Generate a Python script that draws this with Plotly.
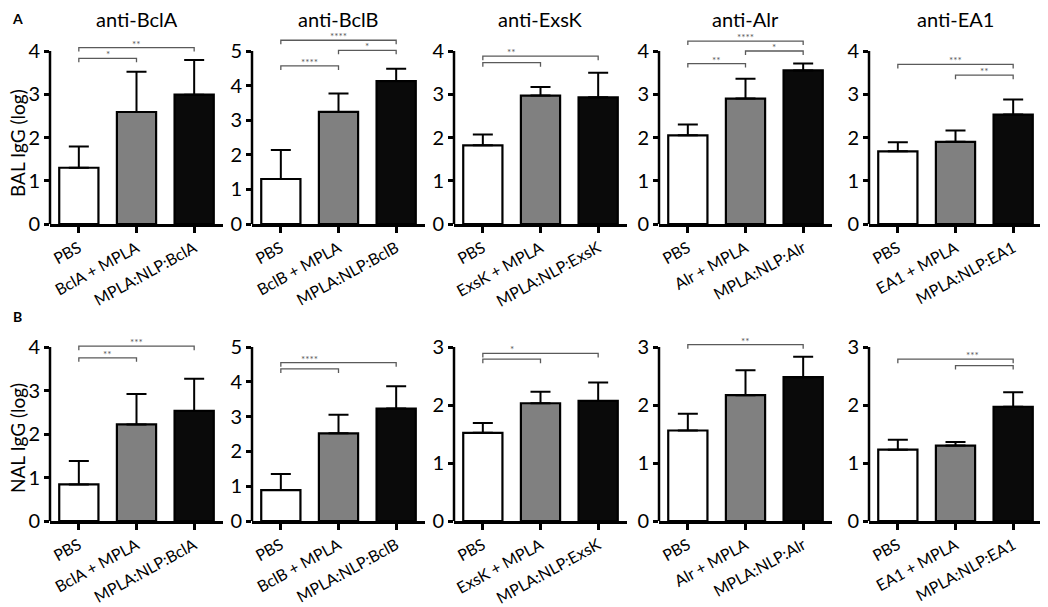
import plotly.graph_objects as go

# antigens, one panel per antigen
antigens = ["BclA", "BclB", "ExsK", "Alr", "EA1"]
bar_colors = ["white", "#808080", "#0a0a0a"]

# BAL IgG (log) - bar heights and upper error (SD)
bal_mean = [[1.30, 2.59, 2.99],
            [1.30, 3.24, 4.13],
            [1.82, 2.97, 2.93],
            [2.05, 2.90, 3.55],
            [1.68, 1.90, 2.53]]
bal_err = [[0.49, 0.93, 0.80],
           [0.84, 0.53, 0.36],
           [0.25, 0.20, 0.57],
           [0.25, 0.46, 0.16],
           [0.21, 0.26, 0.35]]
bal_ymax = [4, 5, 4, 4, 4]

# NAL IgG (log)
nal_mean = [[0.84, 2.22, 2.53],
            [0.89, 2.52, 3.23],
            [1.52, 2.03, 2.07],
            [1.56, 2.17, 2.48],
            [1.23, 1.30, 1.97]]
nal_err = [[0.54, 0.70, 0.74],
           [0.46, 0.53, 0.64],
           [0.17, 0.20, 0.32],
           [0.29, 0.43, 0.35],
           [0.17, 0.06, 0.25]]
nal_ymax = [4, 5, 3, 3, 3]

# significance brackets: (from group, to group, height, label, label x or None)
bal_sig = [[(0, 1, 3.83, "*", None), (0, 2, 4.08, "**", None)],
           [(0, 1, 4.57, "****", None), (1, 2, 5.02, "*", None), (0, 2, 5.31, "****", None)],
           [(0, 1, 3.73, "", None), (0, 2, 3.88, "**", 0.5)],
           [(0, 1, 3.71, "**", None), (1, 2, 4.00, "*", None), (0, 2, 4.23, "****", None)],
           [(1, 2, 3.44, "**", None), (0, 2, 3.69, "***", None)]]
nal_sig = [[(0, 1, 3.75, "**", None), (0, 2, 4.02, "***", None)],
           [(0, 1, 4.37, "", None), (0, 2, 4.55, "****", 0.5)],
           [(0, 1, 2.79, "", None), (0, 2, 2.89, "*", 0.5)],
           [(0, 2, 3.04, "**", None)],
           [(1, 2, 2.68, "", None), (0, 2, 2.79, "***", 1.3)]]

# page is 1048x607, the html body puts an 8px margin round the figure
PAGE_W, PAGE_H, OFF = 1048, 607, 8
W, H = PAGE_W - OFF, PAGE_H - OFF
FONT = "Lato"
panel_left = [50, 252, 454, 659, 869]   # page pixels
panel_w = 173
# rows: (page pixel of y=0, of top tick, of domain top)
rows = [(224, 51, 34), (521, 347, 330)]


def px(x):
  return (x - OFF) / W


def py(y):
  return 1 - (y - OFF) / H


fig = go.Figure()
n = 0
for r, (means, errs, ymaxes, sigs) in enumerate([(bal_mean, bal_err, bal_ymax, bal_sig),
                                                  (nal_mean, nal_err, nal_ymax, nal_sig)]):
  zero_px, top_px, dom_px = rows[r]
  for p, ag in enumerate(antigens):
    n += 1
    xa = "x" if n == 1 else "x%d" % n
    ya = "y" if n == 1 else "y%d" % n
    groups = ["PBS", ag + " + MPLA", "MPLA:NLP:" + ag]
    ymax = ymaxes[p]
    rtop = ymax * (zero_px - dom_px) / (zero_px - top_px)

    fig.add_trace(go.Bar(
      x=[0, 1, 2], y=means[p], width=0.68, xaxis=xa, yaxis=ya,
      marker=dict(color=bar_colors, line=dict(color="black", width=2.2)),
      error_y=dict(type="data", array=errs[p], arrayminus=[0, 0, 0], symmetric=False,
                   color="black", thickness=2, width=10),
      showlegend=False, hoverinfo="y"))

    lay = "xaxis" if n == 1 else "xaxis%d" % n
    lay_y = "yaxis" if n == 1 else "yaxis%d" % n
    fig.layout[lay] = dict(
      domain=[px(panel_left[p]), px(panel_left[p] + panel_w)], anchor=ya,
      range=[-0.5, 2.5], tickvals=[0, 1, 2], ticktext=groups, tickangle=-29,
      showline=True, linecolor="black", linewidth=2.5, ticks="outside",
      ticklen=6, tickwidth=2.5, tickcolor="black", showgrid=False, zeroline=False,
      tickfont=dict(family=FONT, size=16, color="black"), automargin=False, fixedrange=True)
    fig.layout[lay_y] = dict(
      domain=[py(zero_px), py(dom_px)], anchor=xa,
      range=[0, rtop], tickvals=list(range(ymax + 1)), showline=False,
      ticks="outside", ticklen=5, tickwidth=2.5, tickcolor="black",
      showgrid=False, zeroline=False, automargin=False, fixedrange=True,
      tickfont=dict(family=FONT, size=20, color="black"))

    # y axis line, stops at the top tick
    fig.add_shape(type="line", xref=xa + " domain", yref=ya + " domain",
                  x0=0, x1=0, y0=0, y1=ymax / rtop,
                  line=dict(color="black", width=2.5))

    drop = 4 * ymax / (zero_px - top_px)
    for a, b, lev, lab, lx in sigs[p]:
      fig.add_shape(type="path", xref=xa, yref=ya,
                    path="M %g %g L %g %g L %g %g L %g %g" % (a, lev - drop, a, lev, b, lev, b, lev - drop),
                    line=dict(color="#5a5a5a", width=1.3))
      if lab:
        fig.add_annotation(xref=xa, yref=ya, x=(a + b) / 2 if lx is None else lx, y=lev,
                           text=lab, showarrow=False, xanchor="center", yanchor="bottom", yshift=-4,
                           font=dict(family=FONT, size=10, color="#5a5a5a"))

    if r == 0:
      fig.add_annotation(xref="paper", yref="paper", x=px(panel_left[p] + panel_w / 2),
                         y=py(19), text="anti-" + ag, showarrow=False,
                         xanchor="center", yanchor="middle", height=22, valign="middle",
                         font=dict(family=FONT, size=20, color="black"))

# row letters and y titles
for letter, ypos in [("A", 18), ("B", 316)]:
  fig.add_annotation(xref="paper", yref="paper", x=px(17), y=py(ypos), text="<b>%s</b>" % letter,
                     showarrow=False, xanchor="center", yanchor="middle", height=17,
                     font=dict(family=FONT, size=14, color="black"))
for title, ypos in [("BAL IgG (log)", 143), ("NAL IgG (log)", 438)]:
  fig.add_annotation(xref="paper", yref="paper", x=px(17), y=py(ypos), text=title,
                     textangle=-90, showarrow=False, xanchor="center", yanchor="middle",
                     font=dict(family=FONT, size=19, color="black"))

fig.update_layout(width=W, height=H, margin=dict(l=0, r=0, t=0, b=0),
                  plot_bgcolor="white", paper_bgcolor="white", template="none",
                  bargap=0.3)
fig.write_html("out.html")
